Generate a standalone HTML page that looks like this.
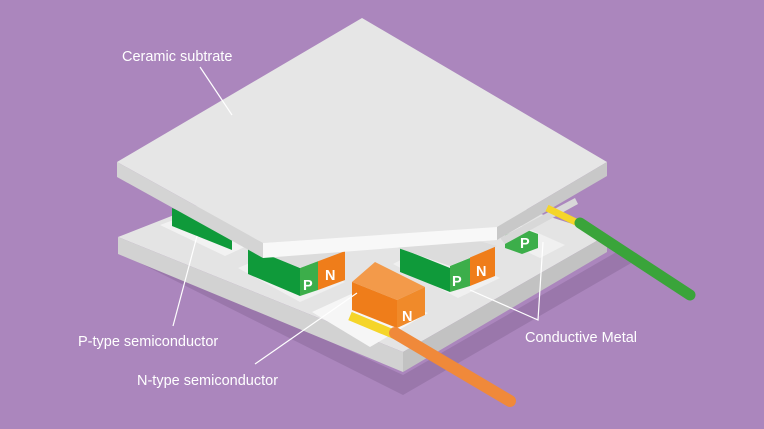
<!DOCTYPE html>
<html><head><meta charset="utf-8"><style>
html,body{margin:0;padding:0;background:#ab86bd;}
svg{display:block}
text{font-family:"Liberation Sans",sans-serif;fill:#fff;font-size:14.5px}
</style></head><body>
<svg width="764" height="429" viewBox="0 0 764 429">
<rect width="764" height="429" fill="#ab86bd"/>
<polygon points="130,258 403,395 640,258 620,250 403,375 130,250" fill="#9a77ab"/>
<polygon points="118,237 340,150 607,235 403,352" fill="#e4e4e4"/>
<polygon points="118,237 403,352 403,372 118,254" fill="#d2d2d2"/>
<polygon points="403,352 607,235 607,252 403,372" fill="#c2c2c2"/>
<polygon points="160,225 195,212 260,240 225,256" fill="#f2f2f2"/>
<polygon points="238,268 280,250 345,282 300,302" fill="#f0f0f0"/>
<polygon points="393,264 430,245 500,278 458,298" fill="#f0f0f0"/>
<polygon points="498,238 520,225 565,245 540,258" fill="#f0f0f0"/>
<polygon points="312,312 360,290 428,313 370,347" fill="#f6f6f6"/>
<polygon points="172,208 232,232 232,250 172,226" fill="#0f9a3a"/>
<!-- group 2 -->
<polygon points="248,246 300,268 300,296 248,274" fill="#0f9a3a"/>
<polygon points="300,268 318,261 318,290 300,296" fill="#3cae4a"/>
<text x="303" y="290" font-weight="bold" font-size="13">P</text>
<polygon points="318,260 345,250 345,280 318,290" fill="#ef7d1a"/>
<text x="325" y="280" font-weight="bold" font-size="13">N</text>
<polygon points="246,246 290,228 348,250 300,268" fill="#dcdcdc"/>
<!-- group 3 -->
<polygon points="400,248 450,268 450,292 400,272" fill="#0f9a3a"/>
<polygon points="450,266 470,258 470,286 450,292" fill="#3cae4a"/>
<text x="452" y="286" font-weight="bold" font-size="13">P</text>
<polygon points="470,256 495,246 495,276 470,286" fill="#ef7d1a"/>
<text x="476" y="276" font-weight="bold" font-size="13">N</text>
<polygon points="398,248 440,230 497,246 450,266" fill="#dcdcdc"/>
<!-- group 4 -->
<polygon points="505,235 522,228 538,234 538,248 522,254 505,248" fill="#3cae4a"/>
<text x="520" y="248" font-weight="bold" font-size="13">P</text>
<!-- top plate -->
<polygon points="117,162 362,18 607,162 497,227 263,243" fill="#e6e6e6"/>
<polygon points="117,162 263,243 263,258 117,177" fill="#d4d4d4"/>
<polygon points="263,243 497,227 497,240 263,258" fill="#f8f8f8"/>
<polygon points="497,227 607,162 607,176 497,240" fill="#c8c8c8"/>
<polygon points="500,238 575,198 578,204 505,244" fill="#d8d8d8"/>
<!-- big N -->
<polygon points="352,282 375,262 425,287 397,300" fill="#f39a4a"/>
<polygon points="352,282 397,300 397,328 352,310" fill="#ef7d1a"/>
<polygon points="397,300 425,287 425,315 397,328" fill="#f08a2a"/>
<text x="402" y="321" font-weight="bold" font-size="15">N</text>
<line x1="350" y1="316" x2="398" y2="336" stroke="#f5d52a" stroke-width="9"/>
<line x1="395" y1="333" x2="510" y2="401" stroke="#f0893a" stroke-width="12" stroke-linecap="round"/>
<line x1="547" y1="208" x2="582" y2="225" stroke="#f5d52a" stroke-width="7"/>
<line x1="580" y1="223" x2="690" y2="295" stroke="#3aa43a" stroke-width="11" stroke-linecap="round"/>
<g stroke="#fff" stroke-width="1.2" fill="none">
<line x1="200" y1="67" x2="232" y2="115"/>
<line x1="173" y1="326" x2="197" y2="236"/>
<line x1="255" y1="364" x2="357" y2="293"/>
<polyline points="470,290 538,320 543,242"/>
</g>
<text x="122" y="61">Ceramic subtrate</text>
<text x="78" y="346">P-type semiconductor</text>
<text x="137" y="385">N-type semiconductor</text>
<text x="525" y="342">Conductive Metal</text>
</svg>
</body></html>
